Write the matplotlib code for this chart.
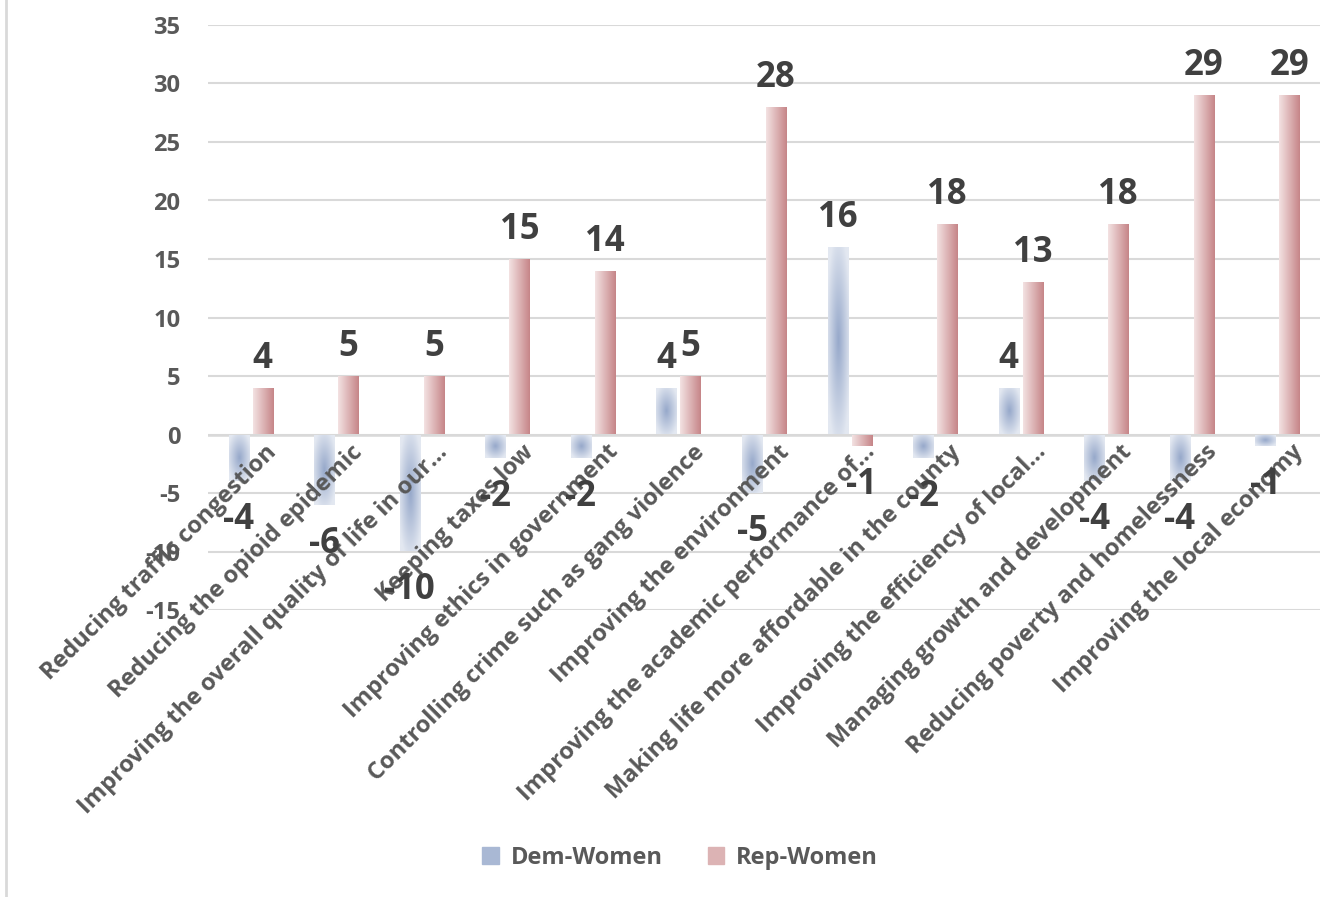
import numpy as np
import matplotlib.pyplot as plt
from matplotlib.lines import Line2D
from matplotlib.colors import to_rgb

# data
categories = [
    "Reducing traffic congestion",
    "Reducing the opioid epidemic",
    "Improving the overall quality of life in our\u2026",
    "Keeping taxes low",
    "Improving ethics in government",
    "Controlling crime such as gang violence",
    "Improving the environment",
    "Improving the academic performance of\u2026",
    "Making life more affordable in the county",
    "Improving the efficiency of local\u2026",
    "Managing growth and development",
    "Reducing poverty and homelessness",
    "Improving the local economy",
]
dem_women = [-4, -6, -10, -2, -2, 4, -5, 16, -2, 4, -4, -4, -1]
rep_women = [4, 5, 5, 15, 14, 5, 28, -1, 18, 13, 18, 29, 29]
yticks = list(range(-15, 40, 5))

FONT = "Open Sans"
TXT = "#595959"
LBL = "#404040"
GRID = "#D9D9D9"

fig = plt.figure(figsize=(13.23, 8.97), dpi=100)
W, H = 1323, 897
ax = fig.add_axes([208 / W, (H - 610) / H, (1320 - 208) / W, (610 - 25) / H])

x = np.arange(len(categories))
bw = 0.234
off = 0.14

dem_bars = ax.bar(x - off, dem_women, bw, color="none", linewidth=0, zorder=3)
rep_bars = ax.bar(x + off, rep_women, bw, color="none", linewidth=0, zorder=3)


def mix(c1, c2, t):
    c1, c2 = np.array(to_rgb(c1)), np.array(to_rgb(c2))
    return c1[None, None, :] * (1 - t[..., None]) + c2[None, None, :] * t[..., None]


# blue: path gradient, darker in the middle
u = np.linspace(-1, 1, 60)
uu, vv = np.meshgrid(u, u)
t_blue = np.clip(np.sqrt(uu ** 2 + vv ** 2) / 1.2, 0, 1)
img_blue = mix("#96A8CA", "#E3E8F1", t_blue)
# pink: linear left to right
t_pink = np.tile(np.linspace(0, 1, 60), (2, 1))
img_pink = mix("#F3E2E2", "#C68588", t_pink)

for bars, img in [(dem_bars, img_blue), (rep_bars, img_pink)]:
    for b in bars:
        x0, y0 = b.get_x(), b.get_y()
        w, h = b.get_width(), b.get_height()
        lo, hi = min(y0, y0 + h), max(y0, y0 + h)
        im = ax.imshow(img, extent=[x0, x0 + w, lo, hi], aspect="auto",
                       interpolation="bilinear", zorder=3, origin="lower")
        im.set_clip_path(b)

ax.set_xlim(-0.5, len(categories) - 0.5)
ax.set_ylim(-15, 35)
ax.set_yticks(yticks)
ax.set_yticklabels([str(v) for v in yticks], fontsize=17, fontweight="bold",
                   color=TXT, fontname=FONT)
ax.tick_params(axis="y", length=0, pad=20)
ax.tick_params(axis="x", length=0, labelbottom=False)
ax.grid(axis="y", color=GRID, linewidth=1.5, zorder=0)
ax.axhline(0, color=GRID, linewidth=1.8, zorder=2)
for s in ax.spines.values():
    s.set_visible(False)

# value labels
for bars, vals in [(dem_bars, dem_women), (rep_bars, rep_women)]:
    for b, v in zip(bars, vals):
        cx = b.get_x() + b.get_width() / 2
        dy = 21 if v >= 0 else -28
        ax.annotate(str(v), (cx, v), xytext=(0, dy), textcoords="offset points",
                    ha="center", va="center", fontsize=25, fontweight="bold",
                    color=LBL, fontname=FONT, zorder=5)

# category labels sit on the zero line, rotated 45 degrees
for xi, name in zip(x, categories):
    ax.annotate(name, (xi, 0), xytext=(10, -4), textcoords="offset points",
                ha="right", va="top", rotation=45, rotation_mode="anchor",
                fontsize=17, fontweight="bold", color=TXT, fontname=FONT, zorder=4)

# legend
handles = [plt.Rectangle((0, 0), 1, 1, color="#A9B8D4"),
           plt.Rectangle((0, 0), 1, 1, color="#DCB3B4")]
fig.legend(handles, ["Dem-Women", "Rep-Women"], loc="center",
           bbox_to_anchor=(0.514, (H - 858) / H), ncol=2, frameon=False,
           prop={"family": FONT, "weight": "bold", "size": 17},
           labelcolor=TXT, handlelength=0.7, handleheight=0.7,
           handletextpad=0.5, columnspacing=1.9)

# chart border on the left edge
fig.add_artist(Line2D([6 / W, 6 / W], [0.0, 1.0], color=GRID, linewidth=2))

fig.savefig("out.png", dpi=100)
